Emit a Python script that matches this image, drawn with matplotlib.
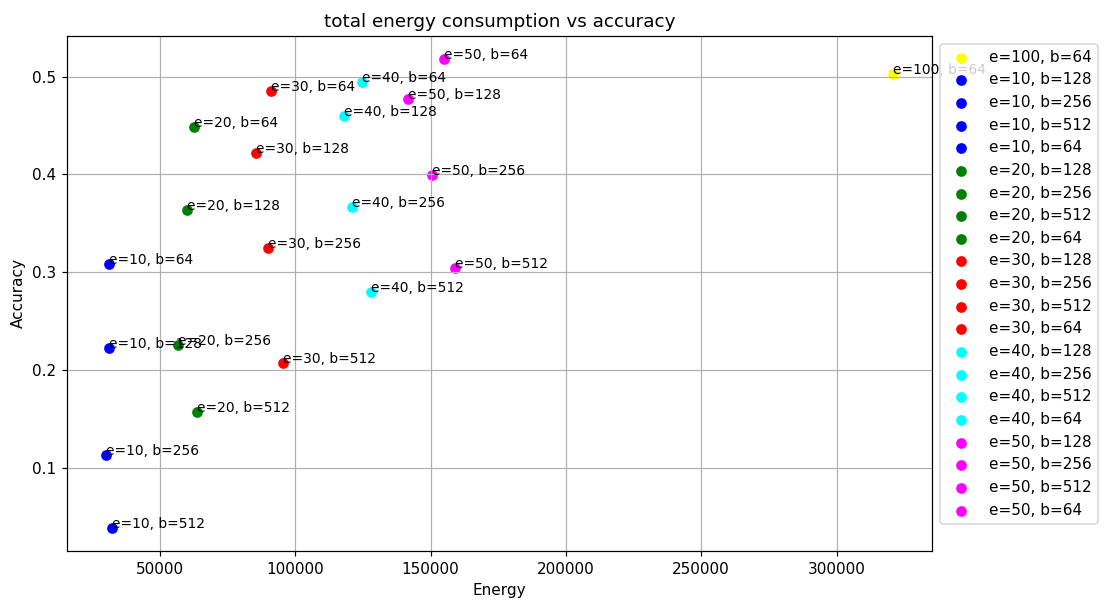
import matplotlib
matplotlib.use("Agg")
import matplotlib.pyplot as plt

# Training runs: epochs, batch size, total energy used, final accuracy
epochs = [100, 10, 10, 10, 10, 20, 20, 20, 20, 30, 30, 30, 30,
          40, 40, 40, 40, 50, 50, 50, 50]
batch_sizes = [64, 128, 256, 512, 64, 128, 256, 512, 64, 128, 256, 512, 64,
               128, 256, 512, 64, 128, 256, 512, 64]
energy = [320740, 31100, 30250, 32350, 31110, 59870, 56540, 63580, 62470,
          85560, 90000, 95430, 91230, 118020, 121110, 128020, 124690,
          141730, 150370, 158890, 154940]
accuracy = [0.5022, 0.2220, 0.1126, 0.0386, 0.3078, 0.3634, 0.2252, 0.1566,
            0.4480, 0.4217, 0.3248, 0.2071, 0.4855, 0.4596, 0.3667, 0.2801,
            0.4940, 0.4766, 0.3989, 0.3037, 0.5176]

epoch_colors = {10: "blue", 20: "green", 30: "red", 40: "cyan",
                50: "magenta", 100: "yellow"}

DPI = 110
fig = plt.figure(figsize=(1106 / DPI, 605 / DPI), dpi=DPI)
ax = fig.add_axes([0.0606, 0.0893, 0.7821, 0.8512])

for e, b, x, y in zip(epochs, batch_sizes, energy, accuracy):
    label = f"e={e}, b={b}"
    ax.scatter(x, y, color=epoch_colors[e], label=label)
    ax.annotate(label, (x, y), fontsize=9)

ax.set_title("total energy consumption vs accuracy")
ax.set_xlabel("Energy")
ax.set_ylabel("Accuracy")
ax.grid(True)
ax.legend(loc="upper left", bbox_to_anchor=(1, 1))

fig.savefig("out.png", dpi=DPI)
